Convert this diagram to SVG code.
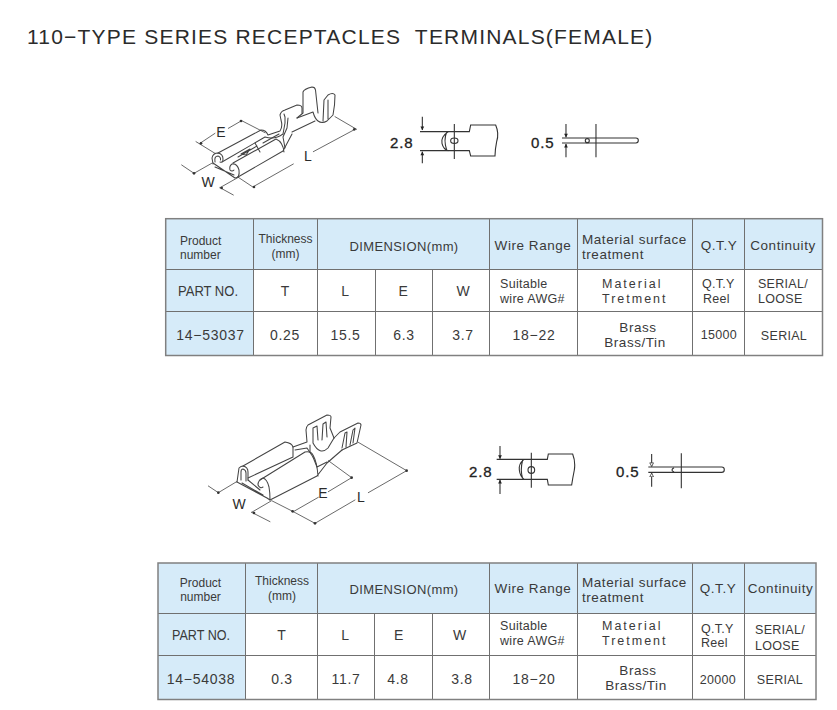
<svg xmlns="http://www.w3.org/2000/svg" width="837" height="710" viewBox="0 0 837 710">
<defs>
<marker id="ah" viewBox="0 0 8 10" refX="7.5" refY="5" markerWidth="14" markerHeight="14" markerUnits="userSpaceOnUse" orient="auto"><path d="M0 1L8 5L0 9Z" fill="#222"/></marker>
<marker id="ho" viewBox="0 0 8 10" refX="7.5" refY="5" markerWidth="14" markerHeight="14" markerUnits="userSpaceOnUse" orient="auto"><path d="M0 1L8 5L0 9Z" fill="#fff" stroke="#222" stroke-width="1.5"/></marker>
</defs>
<style>
text{font-family:"Liberation Sans",Arial,sans-serif;fill:#3a3a3a}
.m{text-anchor:middle}
.title{font-size:21px;letter-spacing:1.2px;fill:#2b2b2b}
.h12{font-size:12px}
.h13{font-size:13px;letter-spacing:.4px}
.h14{font-size:13.500px;letter-spacing:.55px}
.b12{font-size:12.500px;letter-spacing:.3px}
.b14{font-size:14px;letter-spacing:.7px}
.sp{font-size:12.500px;letter-spacing:2px}
.part{font-size:14.500px}
.dim{font-size:14px;fill:#2b2b2b}
.big{font-size:15px;letter-spacing:.9px;fill:#222;stroke:#222;stroke-width:.3px}
.fill{fill:#d6ebf9;stroke:none}
.grid{fill:none;stroke:#707070;stroke-width:1}
.outer{fill:none;stroke:#808080;stroke-width:1.5}
.draw{fill:none;stroke:#444;stroke-width:1.050;stroke-linejoin:round;stroke-linecap:round}
.thin{fill:none;stroke:#444;stroke-width:2.400;stroke-linecap:round}
.dot{fill:#333}
.s{fill:none;stroke:#333;stroke-width:3.300}
</style>
<rect width="837" height="710" fill="#fff"/>
<text class="title" x="27" y="44" xml:space="preserve">110−TYPE SERIES RECEPTACLES  TERMINALS(FEMALE)</text>

<g id="terminal-1">
<g class="draw">
<path d="M213 164L212 158Q213 153 218 153Q223 154 223 159Q223 163 220 162M215 162Q214 156 218 156Q221 157 220.500 160"/>
<path d="M218 153L261 130Q266 130 268 135L280 131Q283 127 281 120L280 115Q281 111 285 110L297 105Q302 105 302 108V113"/>
<path d="M222 162L265 137Q275 140 283 134L285 123V117L284 114M288 118L287 128L283 137L285 148"/>
<path d="M213 163L235 178Q240 178 239 170Q237 163 232 164Q229 166 230 170Q232 172 234 170M215 167L234 175"/>
<path d="M233 163L276 139Q283 142 284 152M238 177L283 151L292 134"/>
<path d="M292 132L315 121M297 118L313 112Q315 119 318 121Q322 124 327 121L333 115Q335 105 335 95Q333 92 328 95L324 100L323 121M328 100V119"/>
<path d="M303 113V92Q304 89 312 87Q315 87 315.500 90L318 113M303 113L297 118"/>
<path d="M238 157L257 146M263 143L279 134M241 154L250 149L246 155ZM255 143L260 152"/>
</g>
<g class="thin" transform="translate(170 90) scale(.3333)">
<path d="M90 160L135 130M175 115L215 92M78 155L135 190M215 92L285 128"/>
<path d="M250 290L370 222M430 185L555 118M495 80L560 118M205 262L250 292"/>
<path d="M35 225L72 250L125 220M150 293L190 315M150 293L205 262"/>
</g>
<g transform="translate(170 90) scale(.3333)">
<circle class="dot" cx="93" cy="160" r="4"/><circle class="dot" cx="213" cy="93" r="4"/><circle class="dot" cx="72" cy="250" r="4"/><circle class="dot" cx="155" cy="294" r="4"/><circle class="dot" cx="252" cy="291" r="4"/><circle class="dot" cx="553" cy="118" r="4"/>
</g>
<text class="dim m" x="221" y="137">E</text><text class="dim m" x="308" y="161">L</text><text class="dim m" x="208" y="187">W</text>
</g>

<g id="front-view-1" transform="translate(380 100) scale(.3333)">
<path class="s" d="M120 95H268L272 75H347Q358 100 350 125Q345 150 345 168H272L268 152H120"/>
<path class="s" d="M205 95Q182 110 186 130Q190 148 205 152M200 97Q190 120 200 150"/>
<ellipse class="s" cx="223" cy="122" rx="11" ry="8"/>
<path class="s" d="M223 72V177"/>
<path class="s" d="M127 50V90" marker-end="url(#ah)"/><path class="s" d="M127 190V155" marker-end="url(#ah)"/>
</g>
<text class="big" x="390" y="148">2.8</text>
<g id="side-view-1" transform="translate(380 100) scale(.3333)">
<path class="s" d="M546 114H768Q775 114 775 121Q775 129 768 129H546"/>
<circle class="s" cx="622" cy="122" r="6"/>
<path class="s" d="M648 72V172"/>
<path class="s" d="M558 72V112" marker-end="url(#ah)"/><path class="s" d="M558 172V132" marker-end="url(#ah)"/>
</g>
<text class="big" x="531" y="148">0.5</text>

<g id="table-1">
<rect class="fill" x="166" y="219" width="656" height="50"/>
<rect class="fill" x="166" y="269" width="87" height="86"/>
<path class="grid" d="M166 269.500H822M166 311.500H822M253.500 219V355M317.500 219V355M375.500 269V355M432.500 269V355M489.500 219V355M577.500 219V355M692.500 219V355M744.500 219V355"/>
<rect class="outer" x="165.700" y="218.700" width="656.800" height="136.800"/>
<text class="h12" x="180" y="245">Product</text><text class="h12" x="180" y="259">number</text>
<text class="h12 m" x="285.500" y="243">Thickness</text><text class="h12 m" x="285.500" y="258">(mm)</text>
<text class="h13 m" x="404" y="251">DIMENSION(mm)</text>
<text class="h14 m" x="533" y="250">Wire Range</text>
<text class="h14" x="582" y="244">Material surface</text><text class="h14" x="582" y="259">treatment</text>
<text class="h14 m" x="719" y="250">Q.T.Y</text><text class="h14 m" x="783" y="250">Continuity</text>
<text class="part" x="178" y="296" textLength="60" lengthAdjust="spacingAndGlyphs">PART NO.</text>
<text class="b14 m" x="285.500" y="296">T</text><text class="b14 m" x="345.500" y="296">L</text><text class="b14 m" x="403.500" y="296">E</text><text class="b14 m" x="463.500" y="296">W</text>
<text class="b12" x="500" y="288">Suitable</text><text class="b12" x="500" y="303">wire AWG#</text>
<text class="sp" x="602" y="288">Material</text><text class="sp" x="602" y="303">Tretment</text>
<text class="b12" x="702" y="288">Q.T.Y</text><text class="b12" x="703" y="303">Reel</text>
<text class="b12 m" x="783" y="288">SERIAL/</text><text class="b12" x="758" y="303">LOOSE</text>
<text class="b14 m" x="210.500" y="340">14−53037</text><text class="b14 m" x="285" y="340">0.25</text><text class="b14 m" x="345.500" y="340">15.5</text><text class="b14 m" x="404" y="340">6.3</text><text class="b14 m" x="463" y="340">3.7</text>
<text class="b14 m" x="534" y="340">18−22</text>
<text class="h14 m" x="638" y="332">Brass</text><text class="h14 m" x="635" y="347">Brass/Tin</text>
<text class="b12 m" x="719" y="339">15000</text><text class="b12 m" x="784" y="340">SERIAL</text>
</g>

<g id="terminal-2">
<g class="draw">
<path d="M237 482L239 468Q241 466 243 466Q248 467 248 472V480M241 480V472Q241 469 243 469Q246 470 246 473V481"/>
<path d="M243 466L285 442Q292 443 293 447V457M248 478L293 457"/>
<path d="M237 482L267 498L270 500Q270 492 269 487Q267 479 263 478Q258 480 258 485Q260 489 263 487M242 483L263 495M248 480L260 490"/>
<path d="M260 480L305 452Q311 451 313 455Q317 462 318 476M270 500L317 476L327 463L342 450"/>
<path d="M293 447L307 442L306 430Q306 427 308 425L327 415Q331 415 331 417L330 428L334 438M295 450L307 448L313 457"/>
<path d="M313 443V428L317 426L318 440M322 440L323 424L326 422L327 437M313 443Q320 456 328 448L334 438M310 445V452"/>
<path d="M313 457L317 467L327 462M334 438L340 432L358 423Q361 423 361 425L357 443L342 450M342 448L345 433L347 432L346 447M350 445L353 430L355 428L353 443"/>
</g>
<g class="thin" transform="translate(200 410) scale(.3333)">
<path d="M25 228L55 248L110 215M155 307L210 335M155 307L215 272L280 305L355 262M385 245L455 203L385 152"/>
<path d="M280 305L345 340L465 270M505 248L620 182L475 97"/>
</g>
<g transform="translate(200 410) scale(.3333)">
<circle class="dot" cx="55" cy="248" r="4"/><circle class="dot" cx="162" cy="309" r="4"/><circle class="dot" cx="278" cy="304" r="4"/><circle class="dot" cx="345" cy="340" r="4"/><circle class="dot" cx="455" cy="203" r="4"/><circle class="dot" cx="620" cy="182" r="4"/>
</g>
<text class="dim m" x="323" y="498">E</text><text class="dim m" x="361" y="502">L</text><text class="dim m" x="239" y="509">W</text>
</g>

<g id="front-view-2" transform="translate(460 440) scale(.3333)">
<path class="s" d="M110 58H262L265 42H338Q347 65 343 90Q338 115 335 135H265L262 118H110"/>
<path class="s" d="M192 58Q175 72 178 90Q180 108 192 118M188 60Q180 90 188 116"/>
<circle class="s" cx="214" cy="90" r="10"/>
<path class="s" d="M214 38V143"/>
<path class="s" d="M120 18V56" marker-end="url(#ah)"/><path class="s" d="M120 162V120" marker-end="url(#ah)"/>
</g>
<text class="big" x="469" y="477">2.8</text>
<g id="side-view-2" transform="translate(460 440) scale(.3333)">
<path class="s" d="M565 81H785Q793 81 793 89Q793 97 785 97H565"/>
<path class="s" d="M642 83Q630 90 642 96"/>
<path class="s" d="M664 40V145"/>
<path class="s" d="M575 42V79" marker-end="url(#ho)"/><path class="s" d="M575 140V100" marker-end="url(#ho)"/>
</g>
<text class="big" x="616" y="477">0.5</text>

<g id="table-2">
<rect class="fill" x="158" y="563" width="658" height="50"/>
<rect class="fill" x="158" y="613" width="87" height="86"/>
<path class="grid" d="M158 613.500H816M158 655.500H816M245.500 563V699M317.500 563V699M374.500 613V699M432.500 613V699M489.500 563V699M577.500 563V699M692.500 563V699M744.500 563V699"/>
<rect class="outer" x="158" y="563" width="658" height="136.500"/>
<text class="h12 m" x="200.500" y="587">Product</text><text class="h12 m" x="200.500" y="601">number</text>
<text class="h12 m" x="282" y="585">Thickness</text><text class="h12 m" x="282" y="600">(mm)</text>
<text class="h13 m" x="404" y="594">DIMENSION(mm)</text>
<text class="h14 m" x="533" y="593">Wire Range</text>
<text class="h14" x="582" y="587">Material surface</text><text class="h14" x="582" y="602">treatment</text>
<text class="h14 m" x="718" y="593">Q.T.Y</text><text class="h14 m" x="780.500" y="593">Continuity</text>
<text class="part" x="172" y="640" textLength="58" lengthAdjust="spacingAndGlyphs">PART NO.</text>
<text class="b14 m" x="282" y="640">T</text><text class="b14 m" x="345.500" y="640">L</text><text class="b14 m" x="399" y="640">E</text><text class="b14 m" x="460" y="640">W</text>
<text class="b12" x="500" y="630">Suitable</text><text class="b12" x="500" y="645">wire AWG#</text>
<text class="sp" x="602" y="630">Material</text><text class="sp" x="602" y="645">Tretment</text>
<text class="b12" x="701" y="633">Q.T.Y</text><text class="b12" x="701" y="647">Reel</text>
<text class="b12" x="755" y="634">SERIAL/</text><text class="b12" x="755" y="650">LOOSE</text>
<text class="b14 m" x="201" y="684">14−54038</text><text class="b14 m" x="282" y="684">0.3</text><text class="b14 m" x="346" y="684">11.7</text><text class="b14 m" x="398" y="684">4.8</text><text class="b14 m" x="462" y="684">3.8</text>
<text class="b14 m" x="534" y="684">18−20</text>
<text class="h14 m" x="638" y="675">Brass</text><text class="h14 m" x="636" y="690">Brass/Tin</text>
<text class="b12 m" x="718" y="684">20000</text><text class="b12 m" x="780" y="684">SERIAL</text>
</g>
</svg>
